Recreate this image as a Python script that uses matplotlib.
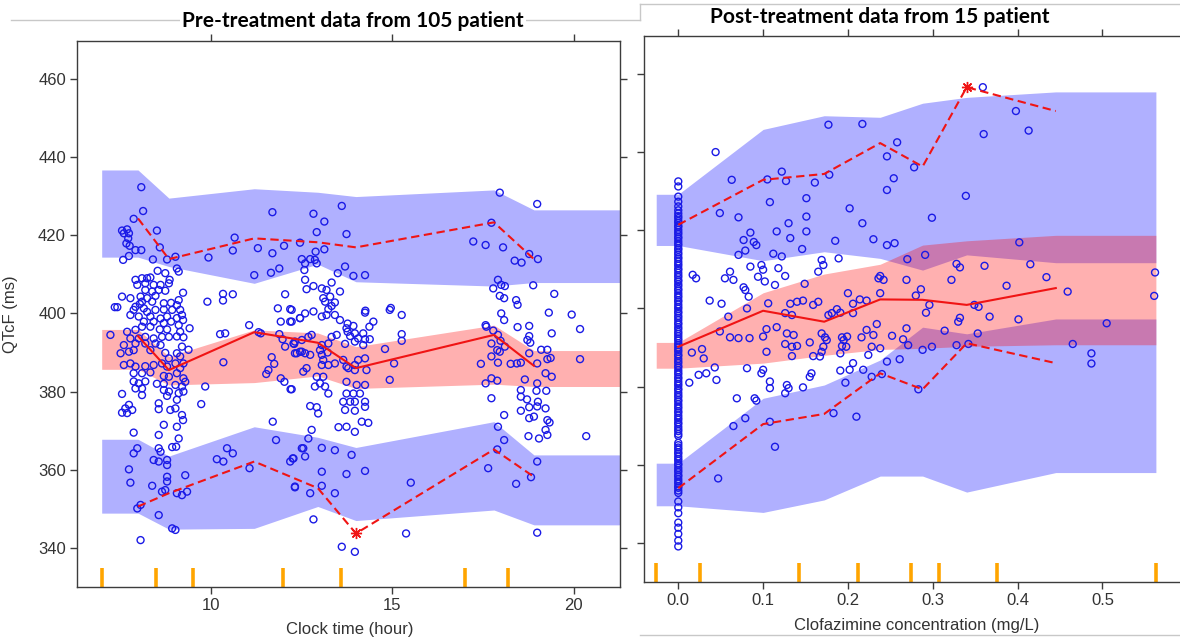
import numpy as np
import matplotlib.pyplot as plt
from matplotlib.lines import Line2D

plt.rcParams['font.family'] = ['Liberation Sans', 'DejaVu Sans']

# ---------------- pre-treatment panel: QTcF vs clock time ----------------
pre_bin_x = [8.0, 8.85, 11.2, 12.95, 14.0, 17.8, 18.9]
pre_bin_edges = [7.0, 8.5, 9.5, 12.0, 13.6, 17.0, 18.2, 21.6]

# observed percentiles per bin
pre_obs_p50 = [394.2, 385.5, 395.2, 392.5, 386.0, 394.5, 386.6]
pre_obs_p95 = [424.3, 413.9, 419.2, 418.2, 416.9, 423.3, 413.9]
pre_obs_p05 = [350.6, 354.0, 362.1, 355.3, 343.7, 365.2, 358.2]
pre_flag_x = [14.0]
pre_flag_y = [343.7]

# simulated prediction intervals per bin
pre_hi_top = [436.7, 429.5, 431.9, 431.0, 429.9, 431.6, 426.5]
pre_hi_bot = [414.4, 412.0, 407.7, 412.6, 408.1, 407.0, 407.9]
pre_med_top = [395.9, 389.0, 395.8, 395.0, 391.5, 397.0, 390.5]
pre_med_bot = [385.7, 381.7, 382.3, 384.0, 380.8, 381.9, 381.3]
pre_lo_top = [367.8, 363.5, 371.0, 368.3, 365.7, 372.3, 363.8]
pre_lo_bot = [348.9, 344.8, 345.0, 350.6, 347.0, 349.7, 345.9]

# observations (clock time h, QTcF ms)
pre_points = [
    # morning
    (8.09, 432.3), (8.14, 426.2), (7.88, 424.2), (7.56, 421.2), (7.70, 421.5), (7.61, 420.5),
    (7.75, 420.5), (7.73, 419.2), (7.68, 417.9), (7.77, 417.3), (7.93, 416.2), (8.09, 416.2),
    (7.59, 413.7), (7.75, 414.7), (8.52, 421.2), (8.60, 416.9), (8.41, 413.8), (8.80, 413.8),
    (8.54, 410.9), (8.75, 410.3), (8.87, 408.6), (7.93, 408.6), (8.11, 409.0), (8.25, 409.0),
    (8.34, 409.2), (7.98, 407.3), (8.20, 407.7), (8.43, 407.3), (8.62, 407.3), (8.85, 407.7),
    (8.20, 406.0), (8.39, 405.6), (8.57, 406.0), (8.75, 405.8), (8.07, 404.3), (8.25, 403.9),
    (8.48, 404.5), (7.56, 404.3), (7.79, 403.9), (7.36, 401.6), (7.43, 401.6), (7.93, 401.7),
    (8.11, 403.0), (8.05, 402.4), (8.16, 401.3), (8.39, 403.0), (8.71, 402.6), (8.91, 402.7),
    (7.88, 400.9), (8.25, 400.4), (8.48, 400.9), (8.71, 401.0), (8.94, 400.9), (7.79, 399.6),
    (8.02, 399.2), (8.34, 399.2), (8.62, 398.7), (8.80, 399.2), (8.16, 397.9), (8.43, 397.9),
    (8.71, 397.5), (8.91, 397.9), (7.24, 394.5), (7.70, 395.3), (7.93, 395.8), (8.11, 396.6),
    (8.34, 396.6), (8.60, 395.9), (8.80, 395.9), (7.79, 393.6), (8.02, 393.6), (8.20, 394.0),
    (8.43, 393.6), (8.66, 394.0), (8.85, 394.0), (7.61, 391.9), (7.52, 389.8), (7.75, 390.2),
    (7.88, 390.6), (7.93, 392.3), (8.20, 392.3), (8.34, 390.6), (8.48, 392.3), (8.62, 391.9),
    (8.75, 389.9), (8.85, 388.5), (7.61, 386.8), (7.79, 387.2), (7.93, 386.4), (8.20, 386.5),
    (8.43, 386.8), (8.66, 387.2), (8.80, 386.4), (7.88, 384.7), (8.11, 384.7), (8.34, 384.9),
    (8.71, 384.0), (8.85, 383.8), (7.88, 382.6), (8.02, 382.1), (8.20, 382.6), (8.52, 382.0),
    (8.71, 382.0), (7.93, 380.8), (8.11, 380.8), (8.71, 380.4), (8.85, 380.0), (8.11, 379.1),
    (8.80, 378.9), (7.56, 379.4), (7.75, 376.6), (7.65, 375.7), (7.84, 375.3), (7.56, 374.6),
    (7.70, 374.5), (8.57, 377.0), (8.57, 375.5), (8.89, 375.3), (8.71, 371.5), (7.88, 369.5),
    (8.57, 368.9), (7.98, 365.5), (7.88, 364.2), (8.57, 365.5), (8.62, 364.6), (8.94, 365.8),
    (8.43, 362.5), (8.57, 362.1), (8.80, 362.5), (8.80, 361.2), (7.75, 360.1), (7.79, 356.7),
    (8.39, 355.9), (8.80, 358.2), (8.80, 357.0), (8.75, 354.8), (8.66, 354.4), (8.07, 351.0),
    (7.98, 350.1), (8.57, 348.4), (8.94, 345.0), (8.07, 342.0),
    # around 9 h
    (9.03, 414.5), (9.07, 411.5), (9.12, 410.7), (9.24, 405.3), (9.12, 403.4), (9.07, 402.1),
    (9.16, 400.9), (9.21, 399.6), (9.07, 398.8), (9.24, 398.3), (9.42, 396.2), (9.12, 397.0),
    (9.16, 395.3), (9.07, 394.1), (9.25, 393.9), (9.21, 391.5), (9.39, 390.7), (9.07, 389.8),
    (9.16, 389.0), (9.03, 387.2), (9.25, 387.2), (9.16, 386.0), (9.07, 384.7), (9.25, 383.4),
    (9.30, 382.5), (9.03, 381.7), (9.21, 381.3), (9.12, 379.6), (9.25, 380.0), (9.07, 377.9),
    (9.03, 375.7), (9.21, 374.0), (9.24, 372.7), (9.07, 371.0), (9.12, 368.0), (9.05, 365.9),
    (9.30, 358.6), (9.07, 354.0), (9.21, 353.5), (9.35, 354.4), (9.03, 344.6),
    # 9.5 - 12.5 h
    (11.70, 425.9), (10.66, 419.4), (10.61, 416.1), (9.94, 414.3), (11.30, 416.7), (11.70, 415.4),
    (12.02, 417.3), (11.89, 411.5), (11.66, 410.4), (11.20, 409.8), (9.91, 403.0), (10.34, 405.0),
    (10.34, 403.3), (10.61, 404.9), (12.05, 404.9), (11.85, 401.3), (12.19, 401.1), (11.93, 397.9),
    (12.23, 397.9), (12.46, 398.8), (11.06, 397.0), (10.26, 394.7), (10.40, 394.9), (11.32, 395.2),
    (11.38, 394.9), (11.89, 394.7), (11.98, 393.4), (12.05, 391.5), (12.30, 392.2), (12.32, 389.8),
    (12.46, 390.2), (10.35, 387.5), (11.68, 388.8), (11.75, 387.1), (11.59, 385.5), (11.53, 384.5),
    (11.93, 383.4), (12.03, 382.5), (12.20, 380.6), (9.85, 381.3), (9.74, 376.8), (11.71, 372.3),
    (11.80, 367.6), (10.45, 365.5), (10.61, 364.2), (10.17, 362.7), (10.35, 362.1), (11.07, 360.4),
    (12.51, 365.5), (12.19, 362.1), (12.26, 362.9), (12.32, 355.5),
    # 12.5 - 15.5 h
    (13.61, 427.5), (12.83, 425.5), (13.13, 423.5), (12.92, 420.8), (13.74, 420.3), (12.46, 418.1),
    (13.13, 416.4), (12.89, 415.8), (12.51, 413.9), (12.74, 413.9), (12.87, 413.7), (12.60, 412.8),
    (12.92, 412.8), (13.70, 412.0), (13.50, 410.3), (13.93, 409.6), (14.25, 409.8), (12.58, 411.1),
    (12.60, 408.6), (13.33, 407.9), (12.83, 407.0), (12.64, 406.2), (13.06, 406.4), (13.19, 406.0),
    (13.56, 405.6), (13.10, 403.9), (13.29, 404.3), (13.15, 403.0), (13.33, 401.9), (13.24, 401.1),
    (13.42, 402.8), (13.19, 399.6), (13.42, 399.6), (13.06, 399.2), (12.83, 400.5), (12.60, 400.0),
    (12.46, 398.8), (12.23, 400.9), (12.19, 397.9), (13.56, 398.3), (13.77, 397.4), (13.93, 396.8),
    (13.74, 396.2), (13.77, 395.3), (13.97, 394.9), (14.20, 394.9), (13.84, 394.2), (14.06, 393.6),
    (14.25, 393.4), (14.38, 393.4), (13.97, 392.8), (14.20, 391.9), (13.70, 392.2), (13.47, 394.5),
    (13.33, 394.0), (13.24, 392.3), (13.06, 391.9), (12.78, 394.5), (12.69, 394.0), (12.51, 393.2),
    (12.32, 392.8), (12.28, 392.3), (12.51, 390.2), (12.37, 389.8), (12.60, 389.8), (12.74, 389.4),
    (13.01, 390.6), (13.06, 389.4), (13.10, 388.1), (13.22, 390.0), (13.06, 386.8), (13.24, 386.8),
    (13.42, 387.2), (13.65, 388.1), (13.74, 386.4), (13.97, 386.8), (14.06, 388.1), (14.25, 388.5),
    (14.29, 385.5), (13.97, 385.5), (13.79, 386.0), (12.55, 385.1), (12.64, 386.0), (12.92, 383.8),
    (13.01, 382.1), (13.10, 383.8), (13.15, 381.3), (13.24, 379.5), (12.87, 381.3), (13.74, 382.5),
    (14.02, 381.7), (14.25, 381.7), (14.11, 379.5), (13.93, 379.5), (13.74, 379.5), (14.25, 377.4),
    (13.65, 377.4), (13.84, 377.4), (13.97, 377.4), (14.25, 376.1), (13.70, 375.3), (13.97, 375.1),
    (12.74, 376.3), (12.92, 376.0), (12.96, 374.4), (13.74, 371.0), (13.52, 370.9), (13.97, 369.7),
    (14.16, 372.3), (14.34, 372.0), (12.78, 370.2), (12.69, 368.0), (12.55, 365.5), (13.06, 365.6),
    (13.42, 365.0), (13.88, 363.8), (12.28, 362.9), (12.60, 363.4), (13.06, 359.5), (13.74, 358.9),
    (14.25, 359.7), (12.32, 355.7), (12.74, 354.0), (13.06, 355.9), (13.42, 354.0), (12.83, 347.3),
    (13.61, 340.3), (13.97, 339.0), (14.48, 397.9), (14.25, 400.2), (14.93, 400.9), (14.80, 390.9),
    (15.05, 387.2), (14.93, 383.0), (12.23, 380.6), (14.26, 400.7), (14.96, 401.4), (14.37, 396.6),
    (15.26, 399.6), (15.26, 394.7), (15.26, 393.0), (15.51, 356.7), (15.38, 343.7),
    # afternoon / evening
    (17.96, 430.9), (17.73, 423.2), (17.23, 418.4), (17.57, 417.5), (18.05, 416.9), (17.91, 408.6),
    (17.78, 406.4), (18.00, 407.3), (17.96, 404.5), (18.08, 403.9), (18.00, 400.0), (18.08, 398.3),
    (17.57, 397.0), (17.59, 396.6), (17.78, 395.6), (17.91, 394.5), (17.98, 393.0), (17.73, 392.3),
    (17.89, 390.6), (17.96, 390.2), (17.44, 387.1), (17.73, 389.0), (17.91, 387.4), (17.57, 382.1),
    (17.73, 383.4), (17.89, 382.8), (17.73, 378.3), (18.08, 374.0), (17.91, 371.0), (18.08, 367.6),
    (17.89, 365.2), (17.64, 360.4), (18.99, 428.0), (18.37, 413.5), (18.56, 413.0), (18.77, 415.2),
    (19.01, 413.9), (18.88, 407.2), (19.46, 405.0), (18.10, 407.0), (18.41, 403.4), (18.45, 402.2),
    (19.31, 400.2), (19.94, 399.7), (18.45, 396.5), (18.77, 396.8), (18.77, 394.2), (18.72, 393.2),
    (18.80, 392.5), (19.39, 394.9), (19.10, 390.7), (19.27, 390.7), (19.27, 388.3), (19.36, 388.6),
    (18.99, 387.2), (19.39, 383.8), (19.22, 384.7), (18.77, 389.8), (18.54, 387.4), (18.26, 387.1),
    (18.43, 387.2), (18.10, 391.5), (18.99, 382.1), (18.65, 383.1), (18.97, 380.2), (19.24, 380.2),
    (18.54, 380.4), (18.54, 378.7), (18.71, 378.0), (19.01, 377.4), (18.77, 376.0), (18.99, 376.2),
    (19.22, 375.7), (18.54, 375.1), (18.77, 373.2), (18.90, 373.6), (19.27, 372.7), (19.33, 372.1),
    (19.22, 370.2), (19.27, 368.9), (18.75, 368.6), (19.04, 368.0), (20.17, 396.0), (20.17, 388.3),
    (20.34, 368.6), (18.99, 343.9), (18.41, 356.4), (18.82, 358.1), (18.99, 362.1),
]

# ---------------- post-treatment panel: QTcF vs clofazimine concentration ----------------
post_bin_x = [0.0, 0.1, 0.172, 0.238, 0.288, 0.340, 0.445]
post_bin_edges = [-0.026, 0.026, 0.1425, 0.212, 0.274, 0.307, 0.376, 0.563]

post_obs_p50 = [390.2, 399.4, 396.6, 402.3, 402.2, 400.9, 405.2]
post_obs_p95 = [421.4, 432.9, 434.4, 442.3, 436.3, 456.6, 450.5]
post_obs_p05 = [354.0, 370.4, 373.0, 383.4, 379.3, 391.1, 386.0]
post_flag_x = [0.340]
post_flag_y = [456.6]

post_hi_top = [429.2, 445.8, 449.3, 448.9, 452.5, 454.0, 455.4]
post_hi_bot = [416.1, 412.2, 414.5, 412.8, 409.8, 413.7, 411.7]
post_med_top = [391.3, 404.0, 408.8, 411.3, 416.2, 417.3, 418.7]
post_med_bot = [384.7, 386.0, 388.0, 389.5, 389.8, 390.3, 390.7]
post_lo_top = [360.4, 377.0, 380.4, 386.8, 395.2, 393.5, 397.3]
post_lo_bot = [349.5, 347.8, 351.0, 357.1, 357.1, 353.0, 358.0]

# QTcF of the samples with zero (below LOQ) concentration
post_zero_conc_qtcf = [
    432.5, 431.2, 428.6, 427.3, 426.1, 425.1,
    424.3, 423.6, 423.1, 422.4, 421.9, 421.2, 420.8, 420.1, 419.5, 419.0, 418.3, 417.9, 417.2,
    416.6, 416.1, 415.4, 415.0, 414.3, 413.8, 413.1, 412.7, 412.0, 411.4, 410.9, 410.2, 409.8,
    409.1, 408.5, 408.0, 407.3, 406.9, 406.2, 405.7, 405.0, 404.6, 403.9, 403.3, 402.8, 402.1,
    401.7, 401.0, 400.4, 399.9, 399.2, 398.8, 398.1, 397.6, 397.0, 396.3, 395.9, 395.2, 394.7,
    394.0, 393.5, 392.9, 392.3, 391.8, 391.1, 390.6, 390.0, 389.4, 388.9, 388.2, 387.8, 387.1,
    386.5, 386.0, 385.3, 384.9, 384.2, 383.6, 383.1, 382.4, 382.0, 381.3, 380.7, 380.2, 379.5,
    379.1, 378.4, 377.8, 377.3, 376.6, 376.2, 375.5, 374.9, 374.4, 373.7, 373.3, 372.6, 372.0,
    371.5, 370.8, 370.4, 369.7, 369.1, 368.6, 367.9, 367.4, 365.6, 365.0, 364.4, 363.9, 363.2,
    362.8, 362.1, 361.5, 361.0, 360.3, 359.9, 359.2, 358.6, 358.1, 357.4, 357.0, 356.3, 355.7,
    355.2, 354.5, 354.1, 353.4, 352.8,
    350.6, 349.1, 347.6, 345.2, 343.9, 342.3, 340.6, 339.1,
]

# observations with measurable concentration (mg/L, QTcF ms)
post_points = [
    (0.044, 440.0), (0.063, 432.9), (0.049, 424.4), (0.071, 423.3), (0.085, 419.4), (0.077, 417.5),
    (0.092, 416.2), (0.089, 417.0), (0.079, 414.8), (0.071, 413.7), (0.085, 410.7), (0.098, 411.1),
    (0.100, 409.9), (0.094, 408.1), (0.061, 409.4), (0.055, 407.7), (0.065, 407.3), (0.077, 405.4),
    (0.079, 404.7), (0.083, 403.0), (0.017, 408.6), (0.021, 407.7), (0.037, 402.0), (0.051, 401.2),
    (0.081, 400.0), (0.059, 397.9), (0.049, 394.1), (0.061, 392.6), (0.071, 392.4), (0.084, 392.4),
    (0.016, 388.7), (0.028, 389.6), (0.030, 387.2), (0.043, 384.9), (0.081, 384.7), (0.013, 381.0),
    (0.024, 383.0), (0.033, 383.4), (0.045, 381.7), (0.069, 377.0), (0.090, 377.0), (0.092, 376.4),
    (0.065, 369.9), (0.079, 371.9), (0.047, 356.5),
    (0.177, 447.0), (0.217, 447.2), (0.258, 442.5), (0.246, 438.9), (0.254, 433.3), (0.246, 430.3),
    (0.122, 435.0), (0.105, 433.0), (0.127, 432.6), (0.161, 432.2), (0.178, 434.2), (0.108, 427.2),
    (0.151, 428.2), (0.202, 425.6), (0.151, 423.5), (0.130, 421.8), (0.217, 421.8), (0.116, 419.7),
    (0.151, 419.7), (0.132, 418.0), (0.185, 417.3), (0.230, 417.7), (0.246, 416.2), (0.255, 416.7),
    (0.146, 415.2), (0.112, 414.0), (0.122, 413.3), (0.169, 412.4), (0.171, 411.1), (0.165, 409.4),
    (0.189, 412.8), (0.102, 406.9), (0.118, 410.3), (0.126, 408.3), (0.114, 406.0), (0.149, 406.3),
    (0.200, 403.9), (0.214, 402.3), (0.222, 402.0), (0.206, 401.2), (0.165, 401.7), (0.159, 400.9),
    (0.147, 402.0), (0.140, 401.7), (0.132, 401.2), (0.106, 401.3), (0.126, 398.8), (0.134, 398.3),
    (0.236, 407.7), (0.242, 407.3), (0.238, 408.3), (0.238, 403.9), (0.177, 398.3), (0.181, 398.8),
    (0.187, 399.8), (0.191, 398.9), (0.206, 398.8), (0.116, 395.2), (0.104, 394.7), (0.100, 392.8),
    (0.128, 393.6), (0.136, 393.2), (0.126, 390.9), (0.134, 390.2), (0.140, 390.4), (0.155, 391.3),
    (0.169, 393.6), (0.173, 392.6), (0.175, 391.9), (0.171, 390.2), (0.169, 388.9), (0.167, 387.7),
    (0.159, 387.8), (0.193, 392.6), (0.199, 392.8), (0.195, 391.9), (0.193, 390.4), (0.198, 390.2),
    (0.191, 388.5), (0.216, 392.6), (0.222, 394.5), (0.230, 393.2), (0.234, 396.0), (0.228, 390.2),
    (0.238, 389.8), (0.252, 393.0), (0.265, 392.1), (0.269, 394.9), (0.104, 388.9), (0.134, 387.8),
    (0.100, 384.3), (0.098, 383.4), (0.157, 383.4), (0.155, 382.5), (0.191, 384.1), (0.202, 384.3),
    (0.206, 386.0), (0.218, 384.3), (0.224, 388.1), (0.228, 382.5), (0.246, 386.4), (0.261, 387.0),
    (0.240, 383.2), (0.108, 381.3), (0.108, 379.6), (0.128, 380.4), (0.130, 379.6), (0.126, 378.3),
    (0.147, 379.8), (0.197, 381.0), (0.183, 373.2), (0.210, 372.3), (0.108, 371.0), (0.114, 364.6),
    (0.359, 456.6), (0.398, 450.5), (0.413, 445.5), (0.360, 444.6), (0.278, 436.1), (0.339, 428.8),
    (0.299, 423.2), (0.402, 416.9), (0.270, 412.6), (0.291, 413.7), (0.328, 411.4), (0.332, 410.5),
    (0.361, 410.9), (0.415, 411.3), (0.269, 407.3), (0.322, 407.3), (0.434, 408.0), (0.387, 405.8),
    (0.286, 404.9), (0.280, 403.3), (0.562, 409.2), (0.561, 403.2), (0.459, 404.3), (0.296, 400.9),
    (0.292, 398.9), (0.349, 400.9), (0.354, 400.4), (0.367, 397.9), (0.401, 397.2), (0.332, 397.6),
    (0.330, 396.6), (0.314, 394.3), (0.353, 393.6), (0.505, 396.2), (0.271, 390.6), (0.288, 389.4),
    (0.299, 390.2), (0.328, 390.6), (0.342, 390.9), (0.465, 390.9), (0.487, 388.5), (0.487, 385.9),
    (0.283, 379.3),
]

y_ticks = [340, 360, 380, 400, 420, 440, 460]

AX_COL = '#3c3c3c'
BLUE_PT = '#1a1ae6'
BAND_BLUE = (0.0, 0.0, 1.0, 0.31)
BAND_RED = (1.0, 0.0, 0.0, 0.31)


def band(ax, centers, edges, lo, hi, color):
    # interval is held flat from the outer bin edges to the first/last bin centre
    xs = [edges[0]] + list(centers) + [edges[-1]]
    ylo = [lo[0]] + list(lo) + [lo[-1]]
    yhi = [hi[0]] + list(hi) + [hi[-1]]
    ax.fill_between(xs, ylo, yhi, color=color, lw=0, zorder=1)


def draw_vpc(ax, centers, edges, bands, obs, pts, flag_x, flag_y):
    hi_bot, hi_top, med_bot, med_top, lo_bot, lo_top = bands
    band(ax, centers, edges, hi_bot, hi_top, BAND_BLUE)
    band(ax, centers, edges, lo_bot, lo_top, BAND_BLUE)
    band(ax, centers, edges, med_bot, med_top, BAND_RED)

    px, py = pts
    ax.scatter(px, py, s=25, facecolors='none', edgecolors=BLUE_PT, linewidths=1.0, zorder=3)

    p05, p50, p95 = obs
    ax.plot(centers, p50, color='#f01414', lw=1.5, zorder=4)
    ax.plot(centers, p95, color='#f01414', lw=1.5, ls=(0, (4, 2.2)), zorder=4)
    ax.plot(centers, p05, color='#f01414', lw=1.5, ls=(0, (4, 2.2)), zorder=4)
    ax.plot(flag_x, flag_y, ls='none', marker=(8, 2, 0), ms=8, mew=1.0, color='#f01414', zorder=5)

    ax.vlines(edges, 330, 334.8, colors='#ffa500', lw=2.6, zorder=2)

    ax.set_ylim(330, 469.7)
    ax.set_yticks(y_ticks)
    for sp in ax.spines.values():
        sp.set_color(AX_COL)
        sp.set_linewidth(1.0)
    ax.tick_params(direction='out', length=5, width=1.0, color=AX_COL,
                   labelcolor='#333333', labelsize=12, pad=3)


fig = plt.figure(figsize=(11.8, 6.38), dpi=100)
W, H = 1180.0, 638.0

# ---------------- left panel ----------------
ax1 = fig.add_axes([77 / W, 1 - 587 / H, 543 / W, 546 / H])
pre_xy = np.array(pre_points).T
draw_vpc(ax1, pre_bin_x, pre_bin_edges,
         (pre_hi_bot, pre_hi_top, pre_med_bot, pre_med_top, pre_lo_bot, pre_lo_top),
         (pre_obs_p05, pre_obs_p50, pre_obs_p95), pre_xy, pre_flag_x, pre_flag_y)
ax1.set_xlim(6.32, 21.27)
ax1.set_xticks([10, 15, 20])
ax1.tick_params(top=True, right=True, labeltop=False, labelright=False)
ax1.set_xlabel('Clock time (hour)', fontsize=12, color='#333333')
ax1.xaxis.set_label_coords(0.503, -0.065)
ax1.set_ylabel('QTcF (ms)', fontsize=12, color='#333333')
ax1.yaxis.set_label_coords(-0.108, 0.5)

# ---------------- right panel ----------------
ax2 = fig.add_axes([644 / W, 1 - 582 / H, 556 / W, 546 / H])
post_xy = np.array(post_points).T
zero_x = np.zeros(len(post_zero_conc_qtcf))
all_x = np.concatenate([zero_x, post_xy[0]])
all_y = np.concatenate([post_zero_conc_qtcf, post_xy[1]])
draw_vpc(ax2, post_bin_x, post_bin_edges,
         (post_hi_bot, post_hi_top, post_med_bot, post_med_top, post_lo_bot, post_lo_top),
         (post_obs_p05, post_obs_p50, post_obs_p95), (all_x, all_y), post_flag_x, post_flag_y)
ax2.set_xlim(-0.0404, 0.615)
conc_ticks = [0.0, 0.1, 0.2, 0.3, 0.4, 0.5]
ax2.set_xticks(conc_ticks)
ax2.set_xticklabels([f'{v:.1f}' for v in conc_ticks])
ax2.spines['right'].set_visible(False)
ax2.tick_params(top=True, labeltop=False, labelleft=False)
ax2.set_xlabel('Clofazimine concentration (mg/L)', fontsize=12, color='#333333')
ax2.xaxis.set_label_coords(0.491, -0.066)

# ---------------- frame lines and titles ----------------
line_kw = dict(transform=fig.transFigure, color='#c8c8c8', lw=1.0, zorder=0)
fig.add_artist(Line2D([11 / W, 640 / W], [1 - 20 / H, 1 - 20 / H], **line_kw))
fig.add_artist(Line2D([640 / W, 640 / W], [1 - 20 / H, 1 - 4 / H], **line_kw))
fig.add_artist(Line2D([640 / W, 1.0], [1 - 4 / H, 1 - 4 / H], **line_kw))
fig.add_artist(Line2D([640 / W, 1.0], [1 - 635 / H, 1 - 635 / H], **line_kw))

fig.text(353 / W, 1 - 21 / H, 'Pre-treatment data from 105 patient', ha='center', va='center',
         fontsize=15, fontweight='bold', family=['Lato', 'DejaVu Sans'],
         bbox=dict(fc='white', ec='none', pad=1.5), zorder=2)
fig.text(880 / W, 1 - 17 / H, 'Post-treatment data from 15 patient', ha='center', va='center',
         fontsize=15, fontweight='bold', family=['Lato', 'DejaVu Sans'], zorder=2)

fig.savefig('out.png', dpi=100)
